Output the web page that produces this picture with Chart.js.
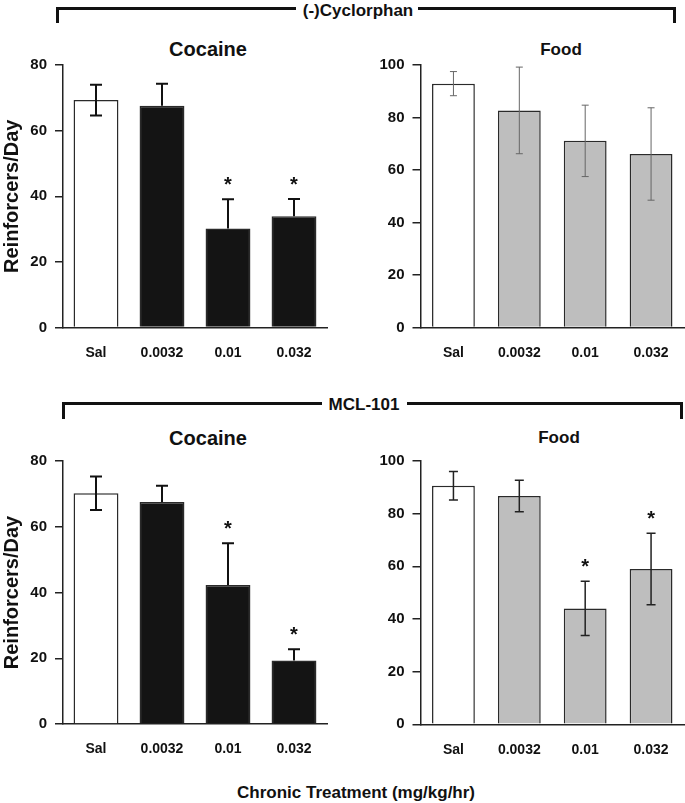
<!DOCTYPE html>
<html>
<head>
<meta charset="utf-8">
<script src="https://cdn.jsdelivr.net/npm/chart.js@4.4.1/dist/chart.umd.min.js"></script>
<style>
  body { margin: 0; background: #fff; width: 685px; height: 803px; overflow: hidden; position: relative;
         font-family: "Liberation Sans", Arial, sans-serif; color: #111; }
  canvas { position: absolute; }
  .lbl { position: absolute; font-weight: bold; line-height: 1; white-space: nowrap; transform: translateX(-50%); }
  .ln { position: absolute; background: #111; }
</style>
</head>
<body>

<!-- (-)Cyclorphan bracket -->
<div class="ln" style="left:56px; top:7px; width:240px; height:3px;"></div>
<div class="ln" style="left:418px; top:7px; width:258px; height:3px;"></div>
<div class="ln" style="left:56px; top:7px; width:3px; height:16px;"></div>
<div class="ln" style="left:673px; top:7px; width:3px; height:16px;"></div>
<div class="lbl" style="left:358px; top:2px; font-size:17px;">(-)Cyclorphan</div>

<div class="lbl" style="left:208px; top:39px; font-size:20px;">Cocaine</div>
<div class="lbl" style="left:561px; top:41px; font-size:17px;">Food</div>

<!-- MCL-101 bracket -->
<div class="ln" style="left:62px; top:402px; width:260px; height:3px;"></div>
<div class="ln" style="left:407px; top:402px; width:276px; height:3px;"></div>
<div class="ln" style="left:62px; top:402px; width:3px; height:17px;"></div>
<div class="ln" style="left:680px; top:402px; width:3px; height:17px;"></div>
<div class="lbl" style="left:364px; top:396px; font-size:17px;">MCL-101</div>

<div class="lbl" style="left:208px; top:428px; font-size:20px;">Cocaine</div>
<div class="lbl" style="left:559px; top:429px; font-size:17px;">Food</div>

<div class="lbl" style="left:356px; top:784px; font-size:17px;">Chronic Treatment (mg/kg/hr)</div>

<canvas id="cycCocaine"></canvas>
<canvas id="cycFood"></canvas>
<canvas id="mclCocaine"></canvas>
<canvas id="mclFood"></canvas>

<script>
const doses = ['Sal', '0.0032', '0.01', '0.032'];

const cocaineMax = 80;
const foodMax = 100;
const yStep = 20;

// (-)Cyclorphan
const cycCocaineMean = [69.3, 67.6, 30.2, 33.9];
const cycCocaineSem  = [4.7, 6.7, 8.9, 5.3];
const cycCocaineSig  = [false, false, true, true];

const cycFoodMean = [92.9, 82.7, 71.1, 66.1];
const cycFoodSem  = [4.6, 16.5, 13.6, 17.6];
const cycFoodSig  = [false, false, false, false];

// MCL-101
const mclCocaineMean = [70.2, 67.5, 42.3, 19.3];
const mclCocaineSem  = [5.1, 5.0, 12.7, 3.4];
const mclCocaineSig  = [false, false, true, true];

const mclFoodMean = [90.6, 86.7, 44.0, 59.0];
const mclFoodSem  = [5.4, 6.0, 10.3, 13.6];
const mclFoodSig  = [false, false, true, true];

const FONT = '"Liberation Sans", Arial, sans-serif';

// error bars + significance asterisks
const errorBarPlugin = {
    id: 'errorBars',
    afterDatasetsDraw(chart, args, opts) {
        const ctx = chart.ctx;
        const xs = chart.scales.x, ys = chart.scales.y;
        const ds = chart.data.datasets[0];
        ctx.save();
        ctx.strokeStyle = opts.color;
        ctx.lineWidth = opts.width;
        ds.data.forEach((v, i) => {
            const e = opts.sem[i];
            const px = xs.getPixelForValue(i);
            const top = ys.getPixelForValue(v + e);
            const mid = ys.getPixelForValue(v);
            const bot = ys.getPixelForValue(v - e);
            // lower half is hidden behind dark bars
            const hidden = opts.darkHides && ds.backgroundColor[i] !== '#ffffff';
            ctx.beginPath();
            ctx.moveTo(px, top); ctx.lineTo(px, hidden ? mid : bot);
            ctx.moveTo(px - opts.cap, top); ctx.lineTo(px + opts.cap, top);
            if (!hidden) {
                ctx.moveTo(px - opts.cap, bot); ctx.lineTo(px + opts.cap, bot);
            }
            ctx.stroke();
            if (opts.sig[i]) {
                ctx.fillStyle = '#111';
                ctx.font = 'bold 20px ' + FONT;
                ctx.textAlign = 'center';
                ctx.textBaseline = 'alphabetic';
                ctx.fillText('*', px, top - 19 + 11);
            }
        });
        ctx.restore();
    }
};

function makeChart(id, box, area, p) {
    const cv = document.getElementById(id);
    cv.style.left = box.x + 'px';
    cv.style.top = box.y + 'px';
    cv.width = box.w;
    cv.height = box.h;
    const XH = 40;

    const fills = p.mean.map((v, i) => i === 0 ? '#ffffff' : p.fill);
    const pad = {
        left: 0,
        top: area.t - box.y,
        right: box.x + box.w - area.r,
        bottom: box.y + box.h - area.b - XH
    };

    const chart = new Chart(cv.getContext('2d'), {
        type: 'bar',
        data: {
            labels: doses,
            datasets: [{
                data: p.mean,
                backgroundColor: fills,
                borderColor: '#2a2a2a',
                borderWidth: 1.5,
                borderSkipped: 'start',
                barPercentage: p.barPct,
                categoryPercentage: 1.0
            }]
        },
        options: {
            responsive: false,
            animation: false,
            layout: { padding: pad },
            plugins: {
                legend: { display: false },
                tooltip: { enabled: false },
                errorBars: { sem: p.sem, sig: p.sig, color: p.errColor, width: p.errWidth, cap: p.cap, darkHides: p.darkHides }
            },
            scales: {
                x: {
                    afterFit: s => { s.height = XH; s.paddingLeft = 0; s.paddingRight = 0; },
                    grid: { display: true, drawOnChartArea: false, drawTicks: false },
                    border: { display: true, color: '#222', width: 1.5 },
                    ticks: { color: '#111', padding: 17, font: { family: FONT, size: 14, weight: 'bold' } }
                },
                y: {
                    min: 0,
                    max: p.max,
                    // fixed width, and no extra room for the end labels
                    afterFit: s => { s.width = area.l - box.x; s.paddingTop = 0; s.paddingBottom = 0; },
                    grid: { display: true, drawOnChartArea: false, drawTicks: true, tickLength: 8, color: '#222', lineWidth: 1.5 },
                    border: { display: true, color: '#222', width: 1.5 },
                    ticks: { stepSize: yStep, color: '#111', padding: 8, font: { family: FONT, size: 15, weight: 'bold' } },
                    title: {
                        display: p.yTitle,
                        text: 'Reinforcers/Day',
                        color: '#111',
                        padding: 0,
                        font: { family: FONT, size: 20, weight: 'bold' }
                    }
                }
            }
        },
        plugins: [errorBarPlugin]
    });

    // nudge padding so the plot area lands where the reference has it
    for (let k = 0; k < 3; k++) {
        const a = chart.chartArea;
        pad.top += (area.t - box.y) - a.top;
        pad.bottom += a.bottom - (area.b - box.y);
        pad.right += a.right - (area.r - box.x);
        chart.config.options.layout.padding = Object.assign({}, pad);
        chart.update();
    }
    return chart;
}

makeChart('cycCocaine', { x: 0, y: 55, w: 340, h: 318 }, { l: 63, r: 327, t: 65, b: 327.5 }, {
    mean: cycCocaineMean, sem: cycCocaineSem, sig: cycCocaineSig, max: cocaineMax,
    fill: '#141414', barPct: 0.68, errColor: '#111', errWidth: 2, cap: 6, yTitle: true, darkHides: true
});
makeChart('cycFood', { x: 345, y: 55, w: 340, h: 318 }, { l: 420.5, r: 684, t: 65, b: 327.5 }, {
    mean: cycFoodMean, sem: cycFoodSem, sig: cycFoodSig, max: foodMax,
    fill: '#bebebe', barPct: 0.65, errColor: '#666', errWidth: 1, cap: 3.5, yTitle: false, darkHides: false
});
makeChart('mclCocaine', { x: 0, y: 450, w: 340, h: 318 }, { l: 63, r: 327, t: 461, b: 724 }, {
    mean: mclCocaineMean, sem: mclCocaineSem, sig: mclCocaineSig, max: cocaineMax,
    fill: '#141414', barPct: 0.68, errColor: '#111', errWidth: 2, cap: 6, yTitle: true, darkHides: true
});
makeChart('mclFood', { x: 345, y: 450, w: 340, h: 318 }, { l: 420.5, r: 684, t: 461, b: 724.3 }, {
    mean: mclFoodMean, sem: mclFoodSem, sig: mclFoodSig, max: foodMax,
    fill: '#bebebe', barPct: 0.65, errColor: '#222', errWidth: 1.5, cap: 4.5, yTitle: false, darkHides: false
});
</script>
</body>
</html>
